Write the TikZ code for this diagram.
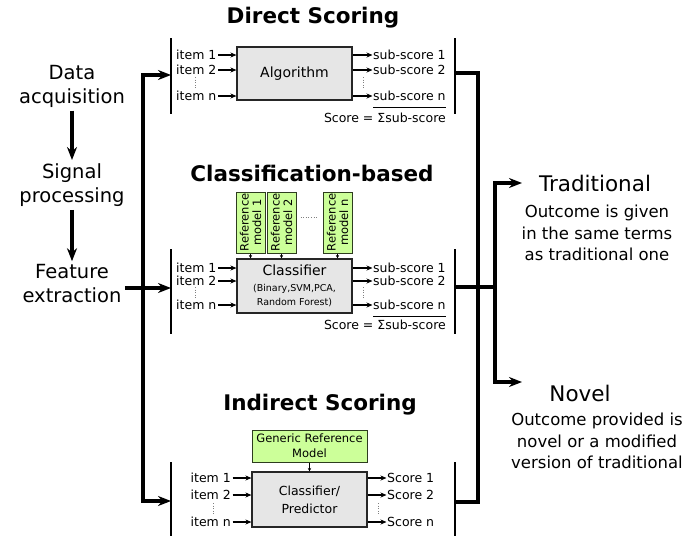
\documentclass[tikz,border=0pt]{standalone}
\usepackage{fontspec}
\setmainfont{DejaVu Sans}
\usepackage{tikz}
\usetikzlibrary{arrows.meta,positioning}
\definecolor{BoxGray}{HTML}{E6E6E6}
\definecolor{RefGreen}{HTML}{CCFF99}
\definecolor{EdgeDark}{HTML}{262626}
\definecolor{RefEdge}{HTML}{2E3D1F}
\tikzset{
  flow/.style={-{Stealth[length=13pt,width=10pt]}, line width=3.2pt},
  spine/.style={line width=3.6pt},
  bracket/.style={line width=1.8pt},
  feed/.style={-{Stealth[length=6pt,width=5pt]}, line width=1.1pt},
  drop/.style={-{Stealth[length=3.5pt,width=3.5pt]}, line width=0.8pt},
  vgap/.style={dotted, line width=0.6pt, black!50},
  procbox/.style={draw=EdgeDark, fill=BoxGray, line width=1.1pt, minimum width=115pt},
  refbox/.style={draw=RefEdge, fill=RefGreen, line width=1pt},
  itemtext/.style={inner sep=0pt, font=\fontsize{12.5}{14}\selectfont},
  heading/.style={font=\fontsize{21.5}{24}\selectfont\bfseries},
  stage/.style={align=center, font=\fontsize{19.5}{24}\selectfont},
  outcome/.style={font=\fontsize{21.5}{24}\selectfont},
  outnote/.style={align=center, font=\fontsize{16.5}{21.5}\selectfont},
}

\begin{document}
\begin{tikzpicture}[x=1pt, y=-1pt]
    \useasboundingbox (0,0) rectangle (688,536);

    % Processing chain
    \node[stage] (acq) at (72,86) {Data\\acquisition};
    \node[stage] (sig) at (72,185) {Signal\\processing};
    \node[stage] (feat) at (72,284) {Feature\\extraction};
    \draw[flow] (acq) -- (sig);
    \draw[flow] (sig) -- (feat);

    % Left spine
    \coordinate (spTop) at (143,75);
    \coordinate (spMid) at (143,288);
    \coordinate (spBot) at (143,501);
    \coordinate (dirL) at (171,75);
    \coordinate (clsL) at (171,288);
    \coordinate (indL) at (171,501);
    \draw[flow] (spMid) -- (spTop) -- (dirL);
    \draw[flow] (spMid) -- (spBot) -- (indL);
    \draw[flow] (feat.east |- clsL) -- (clsL);

    % Direct scoring
    \node[heading] (dirT) at (313,18) {Direct Scoring};
    \draw[bracket] (dirL |- 0,38) -- (dirL |- 0,114);
    \node[procbox, minimum height=53pt, font=\fontsize{14}{16}\selectfont] (alg) at (294.5,73.5) {Algorithm};
    \foreach \n/\y in {1/55, 2/70, n/96} {
        \node[itemtext, anchor=west] (di\n) at (176,\y) {item \n};
        \draw[feed] ([xshift=1.5pt]di\n.east) -- (di\n.east -| alg.west);
        \node[itemtext, anchor=west] (ds\n) at (373,\y) {sub-score \n};
        \draw[feed] (ds\n.west -| alg.east) -- ([xshift=-0.5pt]ds\n.west);
    }
    \draw[vgap] (195,77) -- (195,89);
    \draw[vgap] (363,77) -- (363,89);
    \draw[line width=0.9pt] ([yshift=-6pt]dsn.south west) -- ([yshift=-6pt]dsn.south east);
    \node[itemtext, anchor=east] (dsum) at (446,118) {Score = Σsub-score};

    % Classification-based
    \node[heading] (clsT) at (312,173) {Classification-based};
    \draw[bracket] (clsL |- 0,249) -- (clsL |- 0,334);
    \node[procbox, minimum height=54pt, align=center, font=\fontsize{9.5}{14}\selectfont] (clf) at (294.5,286)
        {{\fontsize{14}{16}\selectfont Classifier}\\[2pt](Binary,SVM,PCA,\\Random Forest)};
    \foreach \n/\x in {1/250.5, 2/281.5, n/337.5} {
        \node[refbox, rotate=90, minimum width=61pt, minimum height=29pt, inner sep=1pt, align=center,
              font=\fontsize{11.5}{12.5}\selectfont] (ref\n) at (\x,222.5) {Reference\\model \n};
        \draw[drop] (ref\n.west) -- (ref\n.west |- clf.north);
    }
    \draw[vgap] ([xshift=4pt,yshift=5pt]ref2.south) -- ([xshift=-4pt,yshift=5pt]refn.north);
    \foreach \n/\y in {1/268, 2/281, n/305} {
        \node[itemtext, anchor=west] (ci\n) at (176,\y) {item \n};
        \draw[feed] ([xshift=1.5pt]ci\n.east) -- (ci\n.east -| clf.west);
        \node[itemtext, anchor=west] (cs\n) at (373,\y) {sub-score \n};
        \draw[feed] (cs\n.west -| clf.east) -- ([xshift=-0.5pt]cs\n.west);
    }
    \draw[vgap] (195,287) -- (195,299);
    \draw[vgap] (363,287) -- (363,299);
    \draw[line width=0.9pt] ([yshift=-6pt]csn.south west) -- ([yshift=-6pt]csn.south east);
    \node[itemtext, anchor=east] (csum) at (446,325) {Score = Σsub-score};

    % Indirect scoring
    \node[heading] (indT) at (320,405) {Indirect Scoring};
    \draw[bracket] (indL |- 0,462) -- (indL |- 0,536);
    \node[refbox, minimum width=115pt, minimum height=32pt, align=center,
          font=\fontsize{11.5}{15}\selectfont] (gen) at (309.5,446) {Generic Reference\\Model};
    \node[procbox, minimum height=55pt, align=center, font=\fontsize{12.5}{18}\selectfont] (pred) at (309.5,499.5)
        {Classifier/\\Predictor};
    \draw[drop] (gen.south) -- (pred.north);
    \foreach \n/\y in {1/478, 2/495, n/522} {
        \node[itemtext, anchor=east] (ii\n) at (231,\y) {item \n};
        \draw[feed] ([xshift=1.5pt]ii\n.east) -- (ii\n.east -| pred.west);
        \node[itemtext, anchor=west] (is\n) at (387,\y) {Score \n};
        \draw[feed] (is\n.west -| pred.east) -- ([xshift=-0.5pt]is\n.west);
    }
    \draw[vgap] (213,503) -- (213,515);
    \draw[vgap] (378,503) -- (378,515);

    % Right spine
    \coordinate (dirR) at (455,73);
    \coordinate (clsR) at (455,287);
    \coordinate (indR) at (455,502);
    \draw[bracket] (dirR |- 0,38) -- (dirR |- 0,114);
    \draw[bracket] (clsR |- 0,249) -- (clsR |- 0,334);
    \draw[bracket] (indR |- 0,462) -- (indR |- 0,536);
    \draw[spine] (dirR) -- (478,73) -- (478,502) -- (indR);
    \coordinate (outJ) at (495,287);
    \draw[spine] (clsR) -- (outJ);

    % Outcomes
    \node[outcome] (trad) at (595,183) {Traditional};
    \node[outnote] (tradD) at (597,233) {Outcome is given\\in the same terms\\as traditional one};
    \node[outcome] (nov) at (580,393) {Novel};
    \node[outnote] (novD) at (597,441) {Outcome provided is\\novel or a modified\\version of traditional};
    \coordinate (tradIn) at (522,183);
    \coordinate (novIn) at (522,382);
    \draw[flow] (outJ) |- (tradIn);
    \draw[flow] (outJ) |- (novIn);

\end{tikzpicture}
\end{document}
